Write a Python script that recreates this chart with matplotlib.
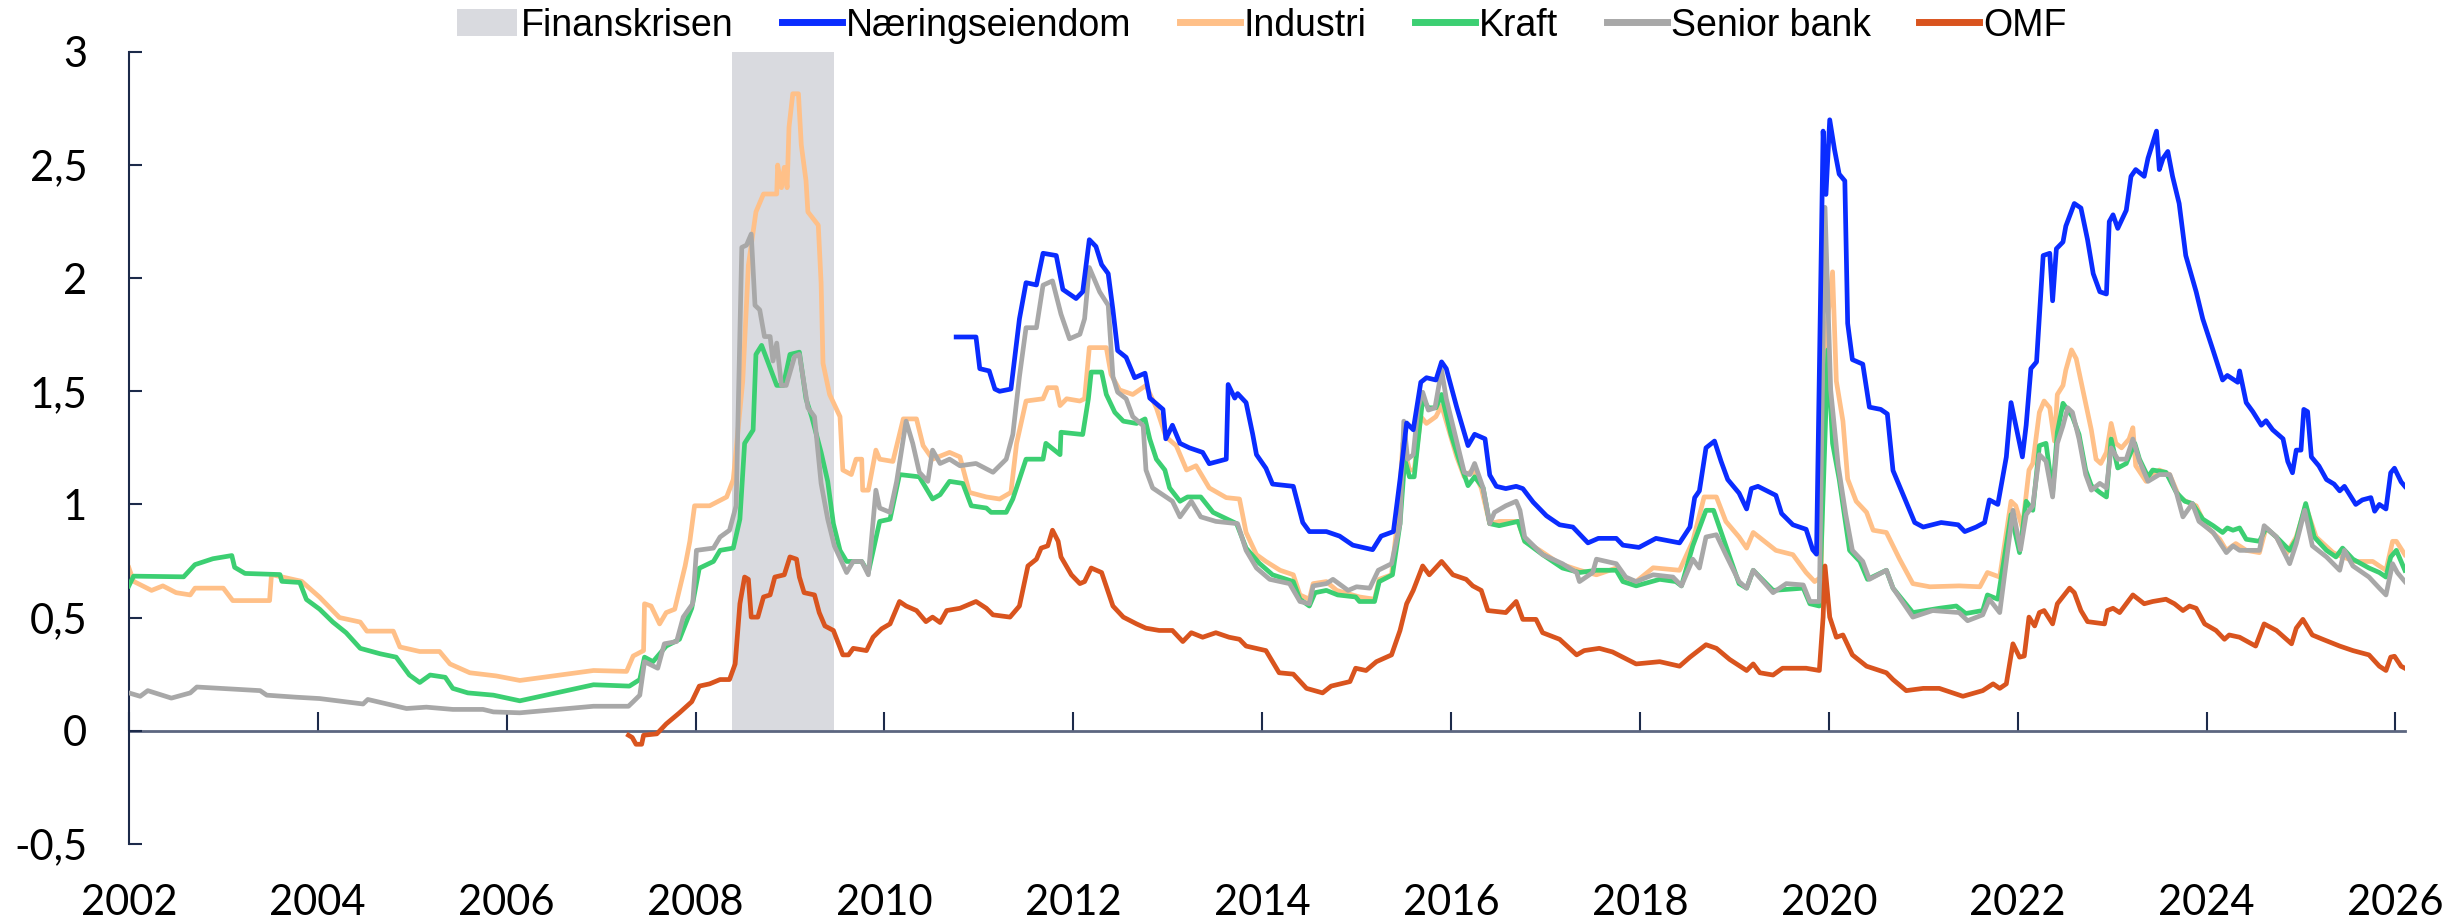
import matplotlib.pyplot as plt
from matplotlib.ticker import FuncFormatter

# Finanskrisen (shaded period)
crisis_x = [2008.39, 2009.47]

naering_x = [2010.76, 2010.97, 2011.01, 2011.11, 2011.17, 2011.22, 2011.34, 2011.43, 2011.50, 2011.61,
             2011.68, 2011.82, 2011.89, 2012.03, 2012.10, 2012.17, 2012.24, 2012.30, 2012.37, 2012.42,
             2012.47, 2012.56, 2012.65, 2012.76, 2012.81, 2012.95, 2012.98, 2013.05, 2013.13, 2013.23,
             2013.37, 2013.44, 2013.62, 2013.64, 2013.71, 2013.74, 2013.83, 2013.90, 2013.94, 2014.04,
             2014.11, 2014.33, 2014.43, 2014.50, 2014.68, 2014.82, 2014.96, 2015.17, 2015.26, 2015.39,
             2015.46, 2015.53, 2015.60, 2015.68, 2015.74, 2015.84, 2015.90, 2015.95, 2016.06, 2016.13,
             2016.18, 2016.25, 2016.36, 2016.41, 2016.48, 2016.58, 2016.69, 2016.76, 2016.87, 2017.01,
             2017.15, 2017.29, 2017.45, 2017.56, 2017.75, 2017.82, 2017.99, 2018.17, 2018.42, 2018.53,
             2018.58, 2018.63, 2018.70, 2018.79, 2018.86, 2018.93, 2019.05, 2019.13, 2019.18, 2019.25,
             2019.44, 2019.50, 2019.62, 2019.76, 2019.83, 2019.87, 2019.94, 2019.97, 2020.01, 2020.06,
             2020.11, 2020.17, 2020.20, 2020.25, 2020.36, 2020.43, 2020.55, 2020.62, 2020.68, 2020.78,
             2020.91, 2021.00, 2021.19, 2021.37, 2021.44, 2021.56, 2021.65, 2021.70, 2021.79, 2021.88,
             2021.93, 2021.98, 2022.05, 2022.09, 2022.14, 2022.20, 2022.27, 2022.34, 2022.37, 2022.41,
             2022.48, 2022.51, 2022.60, 2022.67, 2022.74, 2022.80, 2022.87, 2022.94, 2022.97, 2023.01,
             2023.06, 2023.15, 2023.20, 2023.25, 2023.34, 2023.38, 2023.47, 2023.50, 2023.54, 2023.59,
             2023.64, 2023.71, 2023.78, 2023.89, 2023.96, 2024.07, 2024.17, 2024.22, 2024.33, 2024.35,
             2024.42, 2024.49, 2024.58, 2024.63, 2024.70, 2024.81, 2024.86, 2024.91, 2024.95, 2025.00,
             2025.03, 2025.07, 2025.11, 2025.19, 2025.27, 2025.35, 2025.41, 2025.46, 2025.58, 2025.65,
             2025.74, 2025.78, 2025.83, 2025.90, 2025.95, 2025.99, 2026.06, 2026.10]
naering_y = [1.74, 1.74, 1.60, 1.59, 1.51, 1.50, 1.51, 1.82, 1.98, 1.97,
             2.11, 2.10, 1.95, 1.91, 1.94, 2.17, 2.14, 2.06, 2.02, 1.86,
             1.68, 1.65, 1.56, 1.58, 1.47, 1.42, 1.29, 1.35, 1.27, 1.25,
             1.23, 1.18, 1.20, 1.53, 1.47, 1.49, 1.45, 1.31, 1.22, 1.16,
             1.09, 1.08, 0.92, 0.88, 0.88, 0.86, 0.82, 0.80, 0.86, 0.88,
             1.11, 1.36, 1.33, 1.54, 1.56, 1.55, 1.63, 1.60, 1.43, 1.33,
             1.26, 1.31, 1.29, 1.13, 1.08, 1.07, 1.08, 1.07, 1.01, 0.95,
             0.91, 0.90, 0.83, 0.85, 0.85, 0.82, 0.81, 0.85, 0.83, 0.90,
             1.03, 1.06, 1.25, 1.28, 1.19, 1.11, 1.05, 0.98, 1.07, 1.08,
             1.04, 0.96, 0.91, 0.89, 0.80, 0.78, 2.65, 2.37, 2.70, 2.57,
             2.46, 2.43, 1.80, 1.64, 1.62, 1.43, 1.42, 1.40, 1.15, 1.05,
             0.92, 0.90, 0.92, 0.91, 0.88, 0.90, 0.92, 1.02, 1.00, 1.21,
             1.45, 1.35, 1.21, 1.35, 1.60, 1.63, 2.10, 2.11, 1.90, 2.13,
             2.16, 2.23, 2.33, 2.31, 2.17, 2.02, 1.94, 1.93, 2.25, 2.28,
             2.22, 2.30, 2.45, 2.48, 2.45, 2.53, 2.65, 2.48, 2.53, 2.56,
             2.45, 2.33, 2.10, 1.94, 1.82, 1.68, 1.55, 1.57, 1.54, 1.59,
             1.45, 1.41, 1.35, 1.37, 1.33, 1.29, 1.19, 1.14, 1.24, 1.24,
             1.42, 1.41, 1.21, 1.17, 1.11, 1.09, 1.06, 1.08, 1.00, 1.02,
             1.03, 0.97, 1.00, 0.98, 1.14, 1.16, 1.10, 1.08]

industri_x = [2002.00, 2002.05, 2002.24, 2002.36, 2002.50, 2002.65, 2002.70, 2003.00, 2003.10, 2003.49,
              2003.51, 2003.83, 2004.02, 2004.23, 2004.45, 2004.52, 2004.80, 2004.87, 2005.08, 2005.29,
              2005.40, 2005.61, 2005.89, 2006.14, 2006.92, 2007.27, 2007.34, 2007.45, 2007.46, 2007.53,
              2007.62, 2007.69, 2007.78, 2007.89, 2007.94, 2007.99, 2008.15, 2008.33, 2008.40, 2008.50,
              2008.56, 2008.64, 2008.72, 2008.86, 2008.87, 2008.91, 2008.94, 2008.97, 2008.99, 2009.03,
              2009.09, 2009.12, 2009.17, 2009.19, 2009.30, 2009.33, 2009.35, 2009.42, 2009.53, 2009.56,
              2009.65, 2009.70, 2009.76, 2009.77, 2009.83, 2009.91, 2009.95, 2010.09, 2010.20, 2010.34,
              2010.41, 2010.51, 2010.69, 2010.80, 2010.90, 2011.08, 2011.22, 2011.34, 2011.40, 2011.50,
              2011.68, 2011.73, 2011.82, 2011.86, 2011.93, 2012.07, 2012.12, 2012.17, 2012.35, 2012.40,
              2012.49, 2012.63, 2012.77, 2012.88, 2012.98, 2013.09, 2013.20, 2013.30, 2013.44, 2013.62,
              2013.76, 2013.83, 2013.94, 2014.04, 2014.19, 2014.33, 2014.40, 2014.50, 2014.54, 2014.68,
              2014.79, 2015.03, 2015.19, 2015.24, 2015.37, 2015.44, 2015.49, 2015.56, 2015.61, 2015.68,
              2015.74, 2015.84, 2015.90, 2015.99, 2016.06, 2016.14, 2016.23, 2016.32, 2016.41, 2016.51,
              2016.71, 2016.78, 2016.94, 2017.15, 2017.36, 2017.54, 2017.75, 2017.85, 2017.96, 2018.14,
              2018.42, 2018.56, 2018.68, 2018.81, 2018.91, 2019.05, 2019.13, 2019.20, 2019.44, 2019.62,
              2019.76, 2019.85, 2019.92, 2019.95, 2020.04, 2020.08, 2020.15, 2020.20, 2020.29, 2020.40,
              2020.47, 2020.61, 2020.75, 2020.89, 2021.07, 2021.38, 2021.60, 2021.68, 2021.81, 2021.93,
              2021.98, 2022.05, 2022.12, 2022.16, 2022.23, 2022.28, 2022.34, 2022.39, 2022.42, 2022.48,
              2022.51, 2022.57, 2022.62, 2022.67, 2022.72, 2022.78, 2022.83, 2022.88, 2022.94, 2022.99,
              2023.04, 2023.10, 2023.18, 2023.22, 2023.25, 2023.36, 2023.50, 2023.61, 2023.71, 2023.78,
              2023.89, 2023.99, 2024.14, 2024.21, 2024.31, 2024.42, 2024.56, 2024.63, 2024.74, 2024.84,
              2024.95, 2025.05, 2025.16, 2025.34, 2025.44, 2025.58, 2025.76, 2025.83, 2025.90, 2025.97,
              2026.01, 2026.10]
industri_y = [0.72, 0.66, 0.62, 0.64, 0.61, 0.60, 0.63, 0.63, 0.575, 0.575,
              0.69, 0.66, 0.59, 0.50, 0.48, 0.44, 0.44, 0.37, 0.35, 0.35,
              0.295, 0.256, 0.242, 0.222, 0.266, 0.262, 0.33, 0.354, 0.561, 0.551,
              0.472, 0.522, 0.537, 0.728, 0.837, 0.994, 0.994, 1.033, 1.11, 1.545,
              2.057, 2.293, 2.372, 2.372, 2.50, 2.40, 2.49, 2.40, 2.667, 2.815,
              2.815, 2.589, 2.431, 2.293, 2.234, 1.978, 1.624, 1.486, 1.388, 1.152,
              1.132, 1.20, 1.20, 1.063, 1.063, 1.24, 1.20, 1.19, 1.378, 1.378,
              1.26, 1.20, 1.23, 1.21, 1.053, 1.033, 1.024, 1.053, 1.27, 1.457,
              1.467, 1.516, 1.516, 1.437, 1.467, 1.457, 1.467, 1.693, 1.693, 1.575,
              1.506, 1.486, 1.526, 1.427, 1.299, 1.26, 1.152, 1.171, 1.073, 1.03,
              1.024, 0.876, 0.778, 0.748, 0.709, 0.689, 0.60, 0.581, 0.65, 0.659,
              0.62, 0.591, 0.581, 0.669, 0.689, 0.955, 1.27, 1.152, 1.152, 1.388,
              1.358, 1.388, 1.437, 1.309, 1.211, 1.122, 1.152, 1.073, 0.915, 0.925,
              0.925, 0.837, 0.797, 0.738, 0.709, 0.689, 0.719, 0.669, 0.659, 0.72,
              0.709, 0.837, 1.033, 1.033, 0.925, 0.856, 0.807, 0.876, 0.797, 0.778,
              0.699, 0.659, 0.679, 1.663, 2.028, 1.545, 1.368, 1.112, 1.014, 0.965,
              0.886, 0.876, 0.758, 0.65, 0.636, 0.64, 0.636, 0.699, 0.679, 1.014,
              0.994, 0.896, 1.152, 1.181, 1.407, 1.457, 1.427, 1.28, 1.486, 1.526,
              1.594, 1.683, 1.644, 1.545, 1.447, 1.329, 1.20, 1.181, 1.23, 1.358,
              1.27, 1.25, 1.289, 1.339, 1.171, 1.102, 1.152, 1.132, 1.033, 1.014,
              0.994, 0.906, 0.846, 0.797, 0.827, 0.797, 0.787, 0.896, 0.856, 0.778,
              0.856, 0.994, 0.856, 0.787, 0.768, 0.748, 0.748, 0.728, 0.709, 0.837,
              0.837, 0.778]

kraft_x = [2002.00, 2002.05, 2002.58, 2002.70, 2002.89, 2003.09, 2003.12, 2003.23, 2003.60, 2003.62,
           2003.81, 2003.88, 2004.02, 2004.16, 2004.30, 2004.45, 2004.66, 2004.83, 2004.97, 2005.08,
           2005.19, 2005.35, 2005.43, 2005.59, 2005.86, 2006.14, 2006.92, 2007.30, 2007.41, 2007.46,
           2007.55, 2007.69, 2007.83, 2007.96, 2008.04, 2008.19, 2008.26, 2008.40, 2008.47, 2008.52,
           2008.61, 2008.64, 2008.70, 2008.79, 2008.86, 2008.93, 2009.00, 2009.10, 2009.17, 2009.23,
           2009.33, 2009.40, 2009.46, 2009.53, 2009.60, 2009.76, 2009.83, 2009.95, 2010.06, 2010.16,
           2010.37, 2010.51, 2010.59, 2010.69, 2010.83, 2010.92, 2011.08, 2011.13, 2011.29, 2011.36,
           2011.50, 2011.68, 2011.71, 2011.86, 2011.87, 2012.10, 2012.16, 2012.19, 2012.30, 2012.35,
           2012.44, 2012.53, 2012.67, 2012.76, 2012.81, 2012.88, 2012.97, 2013.02, 2013.13, 2013.21,
           2013.35, 2013.48, 2013.73, 2013.83, 2013.97, 2014.11, 2014.33, 2014.40, 2014.50, 2014.56,
           2014.68, 2014.80, 2014.99, 2015.03, 2015.19, 2015.24, 2015.38, 2015.46, 2015.51, 2015.56,
           2015.61, 2015.70, 2015.76, 2015.84, 2015.90, 2016.00, 2016.09, 2016.18, 2016.25, 2016.34,
           2016.41, 2016.51, 2016.71, 2016.78, 2016.97, 2017.18, 2017.36, 2017.54, 2017.75, 2017.82,
           2017.96, 2018.21, 2018.38, 2018.44, 2018.56, 2018.70, 2018.78, 2018.91, 2019.05, 2019.13,
           2019.20, 2019.41, 2019.73, 2019.80, 2019.90, 2019.95, 2019.99, 2020.04, 2020.11, 2020.22,
           2020.33, 2020.41, 2020.61, 2020.68, 2020.89, 2021.17, 2021.35, 2021.45, 2021.63, 2021.68,
           2021.79, 2021.93, 2022.02, 2022.09, 2022.16, 2022.23, 2022.30, 2022.37, 2022.42, 2022.48,
           2022.53, 2022.58, 2022.65, 2022.72, 2022.78, 2022.87, 2022.94, 2022.99, 2023.06, 2023.15,
           2023.24, 2023.29, 2023.38, 2023.43, 2023.57, 2023.68, 2023.77, 2023.85, 2023.96, 2024.07,
           2024.17, 2024.22, 2024.28, 2024.35, 2024.42, 2024.56, 2024.63, 2024.74, 2024.88, 2024.95,
           2025.05, 2025.14, 2025.27, 2025.37, 2025.44, 2025.55, 2025.72, 2025.83, 2025.90, 2025.95,
           2026.01, 2026.10]
kraft_y = [0.64, 0.683, 0.68, 0.734, 0.76, 0.774, 0.722, 0.695, 0.69, 0.66,
           0.655, 0.58, 0.537, 0.48, 0.433, 0.364, 0.34, 0.325, 0.246, 0.213,
           0.246, 0.236, 0.187, 0.167, 0.157, 0.132, 0.203, 0.197, 0.226, 0.325,
           0.305, 0.374, 0.404, 0.541, 0.718, 0.748, 0.797, 0.807, 0.935, 1.27,
           1.329, 1.663, 1.703, 1.604, 1.526, 1.526, 1.663, 1.673, 1.467, 1.388,
           1.23, 1.102, 0.915, 0.797, 0.748, 0.748, 0.699, 0.925, 0.935, 1.132,
           1.122, 1.024, 1.043, 1.102, 1.093, 0.994, 0.984, 0.965, 0.965, 1.024,
           1.20, 1.20, 1.27, 1.22, 1.319, 1.309, 1.467, 1.585, 1.585, 1.486,
           1.407, 1.368, 1.358, 1.378, 1.289, 1.20, 1.152, 1.073, 1.014, 1.033,
           1.033, 0.965, 0.915, 0.807, 0.74, 0.689, 0.659, 0.581, 0.551, 0.61,
           0.62, 0.60, 0.591, 0.571, 0.571, 0.659, 0.689, 0.915, 1.20, 1.122,
           1.122, 1.467, 1.427, 1.427, 1.486, 1.309, 1.191, 1.083, 1.122, 1.073,
           0.915, 0.906, 0.925, 0.837, 0.778, 0.719, 0.699, 0.709, 0.709, 0.659,
           0.64, 0.669, 0.659, 0.64, 0.817, 0.974, 0.974, 0.817, 0.65, 0.63,
           0.709, 0.62, 0.63, 0.561, 0.551, 1.171, 1.683, 1.27, 1.112, 0.797,
           0.748, 0.669, 0.709, 0.63, 0.522, 0.541, 0.551, 0.518, 0.531, 0.60,
           0.581, 0.955, 0.787, 1.014, 0.974, 1.26, 1.27, 1.053, 1.319, 1.447,
           1.417, 1.388, 1.309, 1.152, 1.083, 1.053, 1.033, 1.289, 1.161, 1.181,
           1.27, 1.20, 1.122, 1.152, 1.142, 1.053, 1.014, 1.004, 0.935, 0.906,
           0.876, 0.896, 0.886, 0.896, 0.846, 0.837, 0.896, 0.856, 0.797, 0.846,
           1.004, 0.856, 0.797, 0.768, 0.807, 0.758, 0.719, 0.699, 0.679, 0.768,
           0.797, 0.709]

senior_x = [2002.00, 2002.12, 2002.20, 2002.45, 2002.65, 2002.72, 2003.39, 2003.46, 2003.77, 2004.02,
            2004.48, 2004.53, 2004.94, 2005.15, 2005.43, 2005.75, 2005.86, 2006.14, 2006.92, 2007.29,
            2007.34, 2007.41, 2007.46, 2007.60, 2007.67, 2007.80, 2007.87, 2007.97, 2008.01, 2008.19,
            2008.26, 2008.36, 2008.43, 2008.49, 2008.54, 2008.59, 2008.63, 2008.68, 2008.73, 2008.79,
            2008.82, 2008.86, 2008.91, 2008.96, 2009.05, 2009.10, 2009.19, 2009.26, 2009.33, 2009.40,
            2009.47, 2009.60, 2009.67, 2009.76, 2009.83, 2009.91, 2009.95, 2010.06, 2010.13, 2010.23,
            2010.30, 2010.37, 2010.46, 2010.51, 2010.59, 2010.69, 2010.80, 2010.97, 2011.15, 2011.29,
            2011.36, 2011.43, 2011.50, 2011.61, 2011.68, 2011.78, 2011.87, 2011.96, 2012.07, 2012.12,
            2012.17, 2012.28, 2012.37, 2012.42, 2012.47, 2012.56, 2012.63, 2012.74, 2012.77, 2012.84,
            2013.05, 2013.13, 2013.25, 2013.35, 2013.51, 2013.74, 2013.83, 2013.94, 2014.08, 2014.29,
            2014.40, 2014.50, 2014.54, 2014.68, 2014.75, 2014.91, 2015.00, 2015.14, 2015.23, 2015.37,
            2015.46, 2015.50, 2015.54, 2015.60, 2015.65, 2015.70, 2015.76, 2015.83, 2015.90, 2015.95,
            2016.02, 2016.09, 2016.14, 2016.20, 2016.25, 2016.34, 2016.41, 2016.46, 2016.58, 2016.69,
            2016.73, 2016.78, 2016.97, 2017.18, 2017.33, 2017.36, 2017.50, 2017.54, 2017.75, 2017.85,
            2017.96, 2018.14, 2018.35, 2018.44, 2018.56, 2018.63, 2018.70, 2018.81, 2018.91, 2019.05,
            2019.13, 2019.20, 2019.41, 2019.55, 2019.73, 2019.80, 2019.90, 2019.96, 2020.02, 2020.10,
            2020.18, 2020.25, 2020.36, 2020.43, 2020.61, 2020.68, 2020.89, 2021.10, 2021.38, 2021.47,
            2021.63, 2021.70, 2021.81, 2021.95, 2022.03, 2022.09, 2022.16, 2022.23, 2022.30, 2022.37,
            2022.42, 2022.48, 2022.53, 2022.58, 2022.65, 2022.72, 2022.78, 2022.87, 2022.94, 2022.99,
            2023.06, 2023.15, 2023.22, 2023.29, 2023.38, 2023.50, 2023.61, 2023.68, 2023.75, 2023.85,
            2023.92, 2024.07, 2024.21, 2024.28, 2024.35, 2024.56, 2024.61, 2024.74, 2024.88, 2024.95,
            2025.04, 2025.12, 2025.27, 2025.41, 2025.46, 2025.55, 2025.72, 2025.83, 2025.90, 2025.97,
            2026.02, 2026.10]
senior_y = [0.167, 0.152, 0.177, 0.144, 0.167, 0.193, 0.177, 0.157, 0.148, 0.142,
            0.118, 0.138, 0.098, 0.104, 0.094, 0.094, 0.083, 0.079, 0.108, 0.108,
            0.128, 0.157, 0.305, 0.276, 0.384, 0.394, 0.502, 0.561, 0.797, 0.807,
            0.856, 0.886, 0.994, 2.136, 2.146, 2.195, 1.88, 1.86, 1.742, 1.742,
            1.634, 1.713, 1.526, 1.526, 1.654, 1.663, 1.427, 1.388, 1.093, 0.935,
            0.817, 0.699, 0.748, 0.748, 0.689, 1.063, 0.984, 0.965, 1.102, 1.368,
            1.27, 1.142, 1.102, 1.24, 1.181, 1.20, 1.171, 1.181, 1.142, 1.20,
            1.309, 1.565, 1.781, 1.781, 1.969, 1.988, 1.841, 1.732, 1.752, 1.821,
            2.047, 1.939, 1.88, 1.565, 1.496, 1.467, 1.388, 1.348, 1.152, 1.073,
            1.014, 0.945, 1.014, 0.945, 0.925, 0.915, 0.797, 0.719, 0.669, 0.65,
            0.571, 0.561, 0.64, 0.65, 0.669, 0.62, 0.636, 0.63, 0.709, 0.738,
            0.915, 1.368, 1.20, 1.22, 1.427, 1.496, 1.417, 1.427, 1.594, 1.467,
            1.348, 1.23, 1.142, 1.132, 1.181, 1.073, 0.915, 0.965, 0.994, 1.014,
            0.974, 0.856, 0.778, 0.738, 0.699, 0.659, 0.699, 0.758, 0.738, 0.679,
            0.659, 0.689, 0.679, 0.64, 0.758, 0.719, 0.856, 0.866, 0.778, 0.659,
            0.63, 0.709, 0.61, 0.65, 0.644, 0.571, 0.571, 2.313, 1.506, 1.171,
            0.955, 0.797, 0.748, 0.669, 0.709, 0.63, 0.502, 0.531, 0.522, 0.486,
            0.512, 0.581, 0.522, 0.974, 0.80, 0.955, 0.994, 1.22, 1.191, 1.033,
            1.27, 1.348, 1.427, 1.407, 1.289, 1.132, 1.063, 1.093, 1.073, 1.25,
            1.20, 1.20, 1.289, 1.191, 1.102, 1.132, 1.132, 1.053, 0.945, 1.004,
            0.925, 0.876, 0.787, 0.817, 0.797, 0.797, 0.906, 0.856, 0.738, 0.827,
            0.974, 0.817, 0.768, 0.709, 0.797, 0.728, 0.679, 0.63, 0.60, 0.738,
            0.699, 0.659]

omf_x = [2007.29, 2007.33, 2007.37, 2007.43, 2007.45, 2007.59, 2007.69, 2007.83, 2007.96, 2008.04,
         2008.15, 2008.26, 2008.36, 2008.42, 2008.47, 2008.52, 2008.56, 2008.59, 2008.66, 2008.72,
         2008.79, 2008.84, 2008.94, 2009.00, 2009.07, 2009.10, 2009.15, 2009.26, 2009.31, 2009.37,
         2009.46, 2009.56, 2009.62, 2009.67, 2009.81, 2009.88, 2009.97, 2010.06, 2010.16, 2010.23,
         2010.34, 2010.44, 2010.51, 2010.59, 2010.66, 2010.80, 2010.97, 2011.08, 2011.15, 2011.33,
         2011.43, 2011.52, 2011.61, 2011.66, 2011.73, 2011.78, 2011.84, 2011.87, 2011.98, 2012.07,
         2012.12, 2012.19, 2012.30, 2012.42, 2012.53, 2012.67, 2012.77, 2012.91, 2013.05, 2013.16,
         2013.25, 2013.37, 2013.51, 2013.65, 2013.76, 2013.83, 2014.04, 2014.11, 2014.18, 2014.33,
         2014.47, 2014.64, 2014.73, 2014.93, 2014.99, 2015.10, 2015.21, 2015.37, 2015.46, 2015.53,
         2015.60, 2015.70, 2015.77, 2015.90, 2016.02, 2016.16, 2016.23, 2016.32, 2016.39, 2016.58,
         2016.69, 2016.76, 2016.90, 2016.97, 2017.15, 2017.33, 2017.41, 2017.57, 2017.71, 2017.96,
         2018.21, 2018.42, 2018.53, 2018.70, 2018.81, 2018.95, 2019.13, 2019.20, 2019.27, 2019.41,
         2019.51, 2019.76, 2019.90, 2019.94, 2019.96, 2020.01, 2020.08, 2020.15, 2020.25, 2020.40,
         2020.61, 2020.68, 2020.82, 2021.00, 2021.17, 2021.42, 2021.63, 2021.74, 2021.81, 2021.88,
         2021.95, 2022.02, 2022.07, 2022.12, 2022.18, 2022.23, 2022.28, 2022.37, 2022.42, 2022.55,
         2022.60, 2022.67, 2022.74, 2022.92, 2022.95, 2023.01, 2023.08, 2023.22, 2023.34, 2023.43,
         2023.57, 2023.66, 2023.75, 2023.82, 2023.89, 2023.98, 2024.10, 2024.19, 2024.24, 2024.35,
         2024.52, 2024.61, 2024.74, 2024.90, 2024.95, 2025.02, 2025.12, 2025.23, 2025.41, 2025.55,
         2025.72, 2025.83, 2025.90, 2025.95, 2025.99, 2026.06, 2026.10]
omf_y = [-0.02, -0.03, -0.06, -0.06, -0.02, -0.014, 0.03, 0.079, 0.128, 0.197,
         0.207, 0.226, 0.226, 0.295, 0.561, 0.679, 0.669, 0.502, 0.502, 0.591,
         0.60, 0.679, 0.689, 0.768, 0.758, 0.679, 0.61, 0.60, 0.522, 0.463,
         0.443, 0.335, 0.335, 0.364, 0.354, 0.413, 0.45, 0.472, 0.571, 0.551,
         0.531, 0.482, 0.502, 0.478, 0.531, 0.541, 0.571, 0.541, 0.512, 0.502,
         0.551, 0.728, 0.758, 0.807, 0.817, 0.886, 0.837, 0.768, 0.689, 0.65,
         0.659, 0.719, 0.699, 0.551, 0.502, 0.472, 0.453, 0.443, 0.443, 0.394,
         0.433, 0.413, 0.433, 0.413, 0.404, 0.374, 0.354, 0.305, 0.256, 0.25,
         0.187, 0.167, 0.197, 0.217, 0.276, 0.266, 0.305, 0.335, 0.443, 0.561,
         0.62, 0.728, 0.689, 0.748, 0.689, 0.669, 0.64, 0.62, 0.531, 0.522,
         0.571, 0.492, 0.492, 0.433, 0.404, 0.335, 0.354, 0.364, 0.348, 0.295,
         0.305, 0.285, 0.325, 0.38, 0.364, 0.315, 0.266, 0.295, 0.256, 0.246,
         0.276, 0.276, 0.266, 0.502, 0.728, 0.502, 0.413, 0.423, 0.335, 0.285,
         0.256, 0.226, 0.177, 0.187, 0.187, 0.152, 0.177, 0.207, 0.187, 0.207,
         0.384, 0.325, 0.33, 0.502, 0.463, 0.522, 0.531, 0.472, 0.561, 0.63,
         0.61, 0.531, 0.482, 0.472, 0.531, 0.541, 0.522, 0.60, 0.561, 0.571,
         0.581, 0.561, 0.531, 0.551, 0.541, 0.472, 0.443, 0.404, 0.423, 0.413,
         0.374, 0.472, 0.443, 0.384, 0.453, 0.492, 0.423, 0.404, 0.374, 0.354,
         0.335, 0.285, 0.266, 0.325, 0.329, 0.285, 0.276]

years = list(range(2002, 2027, 2))
y_ticks = [-0.5, 0, 0.5, 1, 1.5, 2, 2.5, 3]

navy = '#1c2a4a'
tick_font = 'Lato'
legend_font = 'Liberation Sans'


def comma(v, pos):
    return f'{v:g}'.replace('.', ',')


fig = plt.figure(figsize=(24.64, 9.22), dpi=100)
ax = fig.add_axes([0.0523, 0.0848, 0.9237, 0.8589])

ymin, ymax = y_ticks[0], y_ticks[-1]
ax.set_xlim(years[0], 2026.1)
ax.set_ylim(ymin, ymax)

shade = ax.fill_between(crisis_x, 0, ymax, color='#d9dadf', lw=0, zorder=0)

lw = 3.4
l_ind, = ax.plot(industri_x, industri_y, color='#ffc088', lw=lw, zorder=2)
l_kra, = ax.plot(kraft_x, kraft_y, color='#3ccf72', lw=lw, zorder=3)
l_sen, = ax.plot(senior_x, senior_y, color='#a8a8a8', lw=lw, zorder=4)
l_nae, = ax.plot(naering_x, naering_y, color='#0a2cff', lw=lw, zorder=5)
l_omf, = ax.plot(omf_x, omf_y, color='#d9541e', lw=lw, zorder=6)

for s in ['top', 'right', 'bottom']:
    ax.spines[s].set_visible(False)
ax.spines['left'].set_color(navy)
ax.spines['left'].set_linewidth(1.5)

ax.set_yticks(y_ticks)
ax.yaxis.set_major_formatter(FuncFormatter(comma))
ax.tick_params(axis='y', direction='in', length=9, width=1.5, color=navy,
               labelsize=30, pad=30, labelcolor='black')
ax.set_xticks(years)
ax.tick_params(axis='x', length=0, labelsize=30, pad=29, labelcolor='black')
for lab in ax.get_xticklabels() + ax.get_yticklabels():
    lab.set_family(tick_font)

# zero line with the year ticks pointing up
sec = ax.secondary_xaxis((0 - ymin) / (ymax - ymin))
sec.set_xticks(years)
sec.tick_params(direction='in', length=14, width=1.5, color=navy, labelbottom=False)
sec.spines['bottom'].set_color('#5c6680')
sec.spines['bottom'].set_linewidth(2)

handles = [shade, l_nae, l_ind, l_kra, l_sen, l_omf]
labels = ['Finanskrisen', 'Næringseiendom', 'Industri', 'Kraft', 'Senior bank', 'OMF']
leg = ax.legend(handles, labels, loc='center', bbox_to_anchor=(0.512, 0.972),
                bbox_transform=fig.transFigure, ncol=6, frameon=False,
                prop={'family': legend_font, 'size': 27},
                handlelength=1.6, handleheight=0.75, handletextpad=0.1, columnspacing=1.3)
for h in leg.legend_handles[1:]:
    h.set_linewidth(5)

fig.savefig('out.png', dpi=100)
